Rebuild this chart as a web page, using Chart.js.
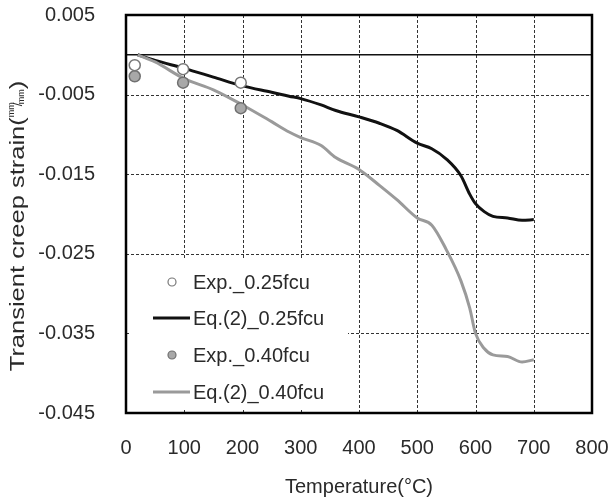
<!DOCTYPE html>
<html>
<head>
<meta charset="utf-8">
<script src="https://cdn.jsdelivr.net/npm/chart.js@4.4.0/dist/chart.umd.min.js"></script>
<style>
  html, body { margin: 0; padding: 0; background: #fff; }
</style>
</head>
<body>
<canvas id="myChart" width="612" height="501"></canvas>
<script>
// values
const temps = [20, 50, 100, 150, 200, 250, 280, 300, 335, 360, 400, 435, 465, 500, 525, 550, 575, 590, 600, 615, 630, 655, 680, 700];
const eq025 = [0, -0.0007, -0.0017, -0.0028, -0.0039, -0.0047, -0.0052, -0.0055, -0.0063, -0.0070, -0.0078, -0.0086, -0.0095, -0.0111, -0.0118, -0.0131, -0.0152, -0.0175, -0.0187, -0.0197, -0.0203, -0.0205, -0.0208, -0.0207];
const eq040 = [0, -0.0009, -0.0030, -0.0044, -0.0063, -0.0084, -0.0097, -0.0104, -0.0114, -0.0129, -0.0144, -0.0164, -0.0182, -0.0205, -0.0214, -0.0245, -0.0284, -0.0318, -0.0350, -0.0369, -0.0377, -0.0379, -0.0386, -0.0383];
const expTemps = [15, 98, 197];
const exp025 = [-0.0013, -0.0018, -0.0035];
const exp040 = [-0.0027, -0.0035, -0.0067];
const xTicks = [0, 100, 200, 300, 400, 500, 600, 700, 800];
const yTicks = [0.005, -0.005, -0.015, -0.025, -0.035, -0.045];
const names = ["Exp._0.25fcu", "Eq.(2)_0.25fcu", "Exp._0.40fcu", "Eq.(2)_0.40fcu"];

const FONT = "'Liberation Sans', Arial, sans-serif";
const TXT = "#2a2a2a";

const toXY = (xs, ys) => xs.map((x, i) => ({ x: x, y: ys[i] }));
const noPad = (s) => {
  s.paddingTop = 0;
  s.paddingBottom = 0;
  s.paddingLeft = 0;
  s.paddingRight = 0;
};

// dashed grid, zero line, legend, frame, y title
const gridPlugin = {
  id: "gridPlugin",
  beforeDatasetsDraw(chart) {
    const { ctx, chartArea: a, scales: { x, y } } = chart;
    ctx.save();
    ctx.strokeStyle = "#333";
    ctx.lineWidth = 1;
    ctx.setLineDash([3, 2]);
    xTicks.slice(1, -1).forEach((t) => {
      const px = Math.round(x.getPixelForValue(t)) + 0.5;
      ctx.beginPath();
      ctx.moveTo(px, a.top);
      ctx.lineTo(px, a.bottom);
      ctx.stroke();
    });
    yTicks.slice(1, -1).forEach((t) => {
      const py = Math.round(y.getPixelForValue(t)) + 0.5;
      ctx.beginPath();
      ctx.moveTo(a.left, py);
      ctx.lineTo(a.right, py);
      ctx.stroke();
    });
    ctx.setLineDash([]);
    ctx.lineWidth = 1.5;
    ctx.strokeStyle = "#111";
    const y0 = y.getPixelForValue(0);
    ctx.beginPath();
    ctx.moveTo(a.left, y0);
    ctx.lineTo(a.right, y0);
    ctx.stroke();
    ctx.restore();
  },
  afterDatasetsDraw(chart) {
    const { ctx, chartArea: a } = chart;
    ctx.save();
    // legend box covers the grid
    ctx.fillStyle = "#fff";
    ctx.fillRect(a.left + 5, 258, 217, 151);
    const rows = [282, 318, 355, 392];
    ctx.font = "20px " + FONT;
    ctx.textBaseline = "middle";
    chart.data.datasets.forEach((ds, i) => {
      const ry = rows[i];
      if (ds.showLine) {
        ctx.strokeStyle = ds.borderColor;
        ctx.lineWidth = 3;
        ctx.beginPath();
        ctx.moveTo(153, ry);
        ctx.lineTo(190, ry);
        ctx.stroke();
      } else {
        ctx.fillStyle = ds.pointBackgroundColor;
        ctx.strokeStyle = ds.pointBorderColor;
        ctx.lineWidth = 1.2;
        ctx.beginPath();
        ctx.arc(172, ry, 4, 0, Math.PI * 2);
        ctx.fill();
        ctx.stroke();
      }
      ctx.fillStyle = TXT;
      ctx.fillText(ds.label, 193, ry + 1);
    });
    // frame
    ctx.strokeStyle = "#000";
    ctx.lineWidth = 2.5;
    ctx.strokeRect(a.left, a.top, a.right - a.left, a.bottom - a.top);
    ctx.restore();
  },
  afterDraw(chart) {
    const { ctx } = chart;
    ctx.save();
    ctx.fillStyle = TXT;
    ctx.translate(18, 226);
    ctx.rotate(-Math.PI / 2);
    ctx.font = "21px " + FONT;
    const main = "Transient creep strain(";
    const wMain = ctx.measureText(main).width;
    const s = 254 / wMain;
    ctx.font = "9px " + FONT;
    const wmm = ctx.measureText("mm").width;
    ctx.font = "21px " + FONT;
    const wClose = ctx.measureText(")").width;
    const total = 254 + (wmm * 2 - 2) + wClose * s;
    ctx.translate(-total / 2, 0);
    ctx.textBaseline = "middle";
    ctx.save();
    ctx.scale(s, 1);
    ctx.fillText(main, 0, 0);
    ctx.restore();
    let cx = 254;
    ctx.font = "9px " + FONT;
    ctx.fillText("mm", cx, -6);
    ctx.font = "13px " + FONT;
    ctx.fillText("/", cx + wmm - 4, 0);
    ctx.font = "9px " + FONT;
    ctx.fillText("mm", cx + wmm - 2, 4);
    cx += wmm * 2 - 2;
    ctx.font = "21px " + FONT;
    ctx.save();
    ctx.translate(cx, 0);
    ctx.scale(s, 1);
    ctx.fillText(")", 0, 0);
    ctx.restore();
    ctx.restore();
  },
};

const chartElement = document.getElementById("myChart");
const myChart = new Chart(chartElement, {
  type: "scatter",
  data: {
    datasets: [
      {
        label: names[0],
        data: toXY(expTemps, exp025),
        showLine: false,
        pointRadius: 5.5,
        pointBackgroundColor: "#ffffff",
        pointBorderColor: "#777777",
        pointBorderWidth: 1.5,
        order: 0,
      },
      {
        label: names[1],
        data: toXY(temps, eq025),
        showLine: true,
        borderColor: "#111111",
        borderWidth: 3,
        pointRadius: 0,
        cubicInterpolationMode: "monotone",
        order: 2,
      },
      {
        label: names[2],
        data: toXY(expTemps, exp040),
        showLine: false,
        pointRadius: 5.5,
        pointBackgroundColor: "#a8a8a8",
        pointBorderColor: "#707070",
        pointBorderWidth: 1.5,
        order: 0,
      },
      {
        label: names[3],
        data: toXY(temps, eq040),
        showLine: true,
        borderColor: "#9a9a9a",
        borderWidth: 3,
        pointRadius: 0,
        cubicInterpolationMode: "monotone",
        order: 1,
      },
    ],
  },
  options: {
    responsive: false,
    animation: false,
    layout: { padding: { top: 15, right: 20, left: 0, bottom: 0 } },
    plugins: { legend: { display: false }, tooltip: { enabled: false } },
    scales: {
      x: {
        type: "linear",
        min: 0,
        max: 800,
        grid: { display: false, drawTicks: false },
        border: { display: false },
        afterBuildTicks: (s) => { s.ticks = xTicks.map((v) => ({ value: v })); },
        afterFit: (s) => { s.height = 88; noPad(s); },
        ticks: {
          padding: 23,
          maxRotation: 0,
          color: TXT,
          font: { family: FONT, size: 20 },
        },
        title: {
          display: true,
          text: "Temperature(°C)",
          color: TXT,
          font: { family: FONT, size: 20 },
          padding: { top: 0, bottom: 2 },
        },
      },
      y: {
        type: "linear",
        min: -0.045,
        max: 0.005,
        grid: { display: false, drawTicks: false },
        border: { display: false },
        afterBuildTicks: (s) => { s.ticks = yTicks.map((v) => ({ value: v })); },
        afterFit: (s) => { s.width = 126; noPad(s); },
        ticks: {
          padding: 31,
          color: TXT,
          font: { family: FONT, size: 20 },
          callback: (v) => v.toFixed(3),
        },
      },
    },
  },
  plugins: [gridPlugin],
});
</script>
</body>
</html>
